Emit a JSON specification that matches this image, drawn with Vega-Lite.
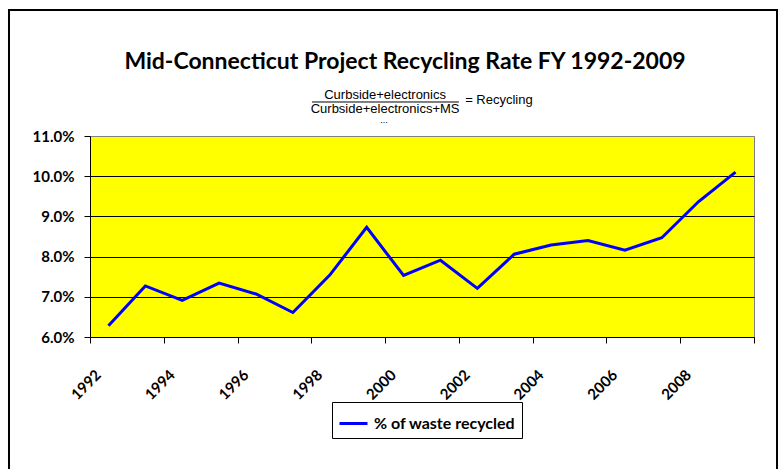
{
  "$schema": "https://vega.github.io/schema/vega-lite/v6.json",
  "width": 664,
  "height": 201,
  "autosize": "none",
  "padding": {"left": 90, "top": 136, "right": 24, "bottom": 132},
  "background": "white",
  "title": {
    "text": "Mid-Connecticut Project Recycling Rate FY 1992-2009",
    "font": "Lato",
    "fontSize": 23,
    "fontWeight": "bold",
    "color": "black",
    "anchor": "middle",
    "frame": "group",
    "dx": -17,
    "offset": -65
  },
  "data": {
    "values": [
      {"year": 1992, "rate": 0.0628},
      {"year": 1993, "rate": 0.0727},
      {"year": 1994, "rate": 0.0691},
      {"year": 1995, "rate": 0.0734},
      {"year": 1996, "rate": 0.0707},
      {"year": 1997, "rate": 0.0661},
      {"year": 1998, "rate": 0.0754},
      {"year": 1999, "rate": 0.0873},
      {"year": 2000, "rate": 0.0753},
      {"year": 2001, "rate": 0.0791},
      {"year": 2002, "rate": 0.0721},
      {"year": 2003, "rate": 0.0806},
      {"year": 2004, "rate": 0.0829},
      {"year": 2005, "rate": 0.0840},
      {"year": 2006, "rate": 0.0816},
      {"year": 2007, "rate": 0.0847},
      {"year": 2008, "rate": 0.0937},
      {"year": 2009, "rate": 0.1010}
    ]
  },
  "layer": [
    {
      "mark": {"type": "line", "strokeWidth": 3},
      "encoding": {
        "x": {
          "field": "year",
          "type": "quantitative",
          "scale": {"domain": [1991.5, 2009.5], "nice": false, "zero": false},
          "axis": {
            "title": null,
            "values": [1991.5, 1993.5, 1995.5, 1997.5, 1999.5, 2001.5, 2003.5, 2005.5, 2007.5, 2009.5],
            "labelExpr": "datum.value > 2009 ? '' : format(datum.value + 0.5, 'd')",
            "labelAngle": -45,
            "labelAlign": "right",
            "labelBaseline": "middle",
            "labelFont": "Lato",
            "labelFontWeight": "bold",
            "labelFontSize": 15,
            "labelColor": "black",
            "labelOffset": 8,
            "labelPadding": 29,
            "labelBound": false,
            "labelFlush": false,
            "labelOverlap": false,
            "tickColor": "black",
            "tickSize": 6,
            "domainColor": "black",
            "grid": false
          }
        },
        "y": {
          "field": "rate",
          "type": "quantitative",
          "scale": {"domain": [0.06, 0.11], "nice": false, "zero": false},
          "axis": {
            "title": null,
            "values": [0.06, 0.07, 0.08, 0.09, 0.10, 0.11],
            "format": ".1%",
            "labelFont": "Lato",
            "labelFontWeight": "bold",
            "labelFontSize": 15,
            "labelColor": "black",
            "labelPadding": 10,
            "tickColor": "black",
            "tickSize": 6,
            "domainColor": "black",
            "grid": true,
            "gridColor": {"condition": {"test": "datum.value >= 0.109", "value": "#808080"}, "value": "black"},
            "gridOpacity": 1,
            "gridWidth": 1
          }
        },
        "color": {
          "datum": "% of waste recycled",
          "scale": {"range": ["#0000FF"]},
          "legend": {
            "title": null,
            "orient": "none",
            "legendX": 242,
            "legendY": 266,
            "symbolType": "stroke",
            "symbolStrokeWidth": 3,
            "symbolSize": 784,
            "labelFont": "Lato",
            "labelFontSize": 16,
            "labelFontWeight": "bold",
            "labelColor": "black",
            "labelOffset": 5,
            "strokeColor": "black",
            "fillColor": "white",
            "padding": 6
          }
        }
      }
    },
    {
      "data": {"values": [{}]},
      "mark": {"type": "rect", "fillOpacity": 0, "stroke": "black", "strokeWidth": 2},
      "encoding": {
        "x": {"datum": 1989.304},
        "x2": {"datum": 2010.124},
        "y": {"datum": 0.141343},
        "y2": {"datum": 0.02443}
      }
    },
    {
      "data": {"values": [{}]},
      "mark": {"type": "text", "text": "Curbside+electronics", "font": "Liberation Sans", "fontSize": 13, "align": "center", "baseline": "middle", "color": "black"},
      "encoding": {"x": {"datum": 1999.5}, "y": {"datum": 0.1201}}
    },
    {
      "data": {"values": [{}]},
      "mark": {"type": "text", "text": "Curbside+electronics+MS", "font": "Liberation Sans", "fontSize": 13, "align": "center", "baseline": "middle", "color": "black"},
      "encoding": {"x": {"datum": 1999.5}, "y": {"datum": 0.1166}}
    },
    {
      "data": {"values": [{}]},
      "mark": {"type": "rule", "color": "black", "strokeWidth": 1},
      "encoding": {"x": {"datum": 1997.52}, "x2": {"datum": 2001.5}, "y": {"datum": 0.11846}}
    },
    {
      "data": {"values": [{}]},
      "mark": {"type": "text", "text": "= Recycling", "font": "Liberation Sans", "fontSize": 13, "align": "left", "baseline": "middle", "color": "black"},
      "encoding": {"x": {"datum": 2001.67}, "y": {"datum": 0.11896}}
    },
    {
      "data": {"values": [{}]},
      "mark": {"type": "text", "text": "...", "font": "Liberation Sans", "fontSize": 9, "align": "center", "baseline": "alphabetic", "color": "black"},
      "encoding": {"x": {"datum": 1999.47}, "y": {"datum": 0.11323}}
    }
  ],
  "config": {
    "view": {"fill": "#FFFF00", "stroke": "#808080", "strokeWidth": 1}
  }
}
